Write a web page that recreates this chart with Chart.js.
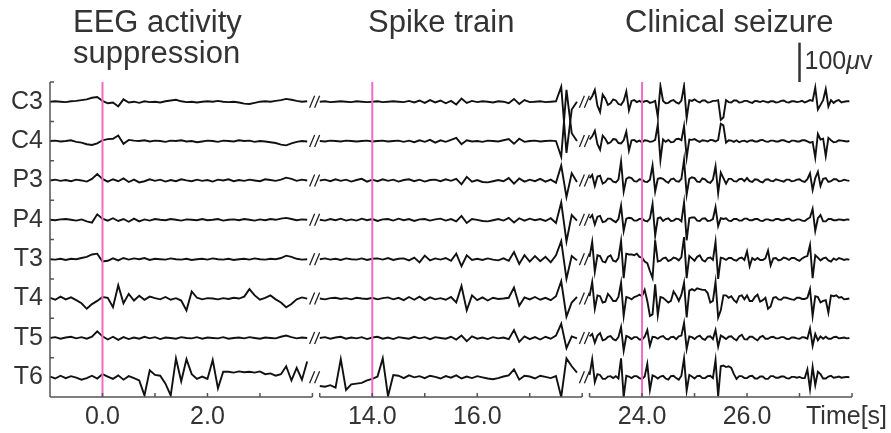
<!DOCTYPE html>
<html>
<head>
<meta charset="utf-8">
<script src="https://cdn.jsdelivr.net/npm/chart.js@4.4.1/dist/chart.umd.min.js"></script>
<style>
  html, body { margin:0; padding:0; background:#fff; }
  #wrap { width:891px; height:433px; }
</style>
</head>
<body>
<div id="wrap"><canvas id="eeg" width="891" height="433"></canvas></div>
<script>
// channels, top to bottom
const CHANNELS = ['C3','C4','P3','P4','T3','T4','T5','T6'];
const SPACING = 100;               // uV between baselines
// three recorded windows (s); the seizure window is read at a finer step
const SEG_START = [-1, 13, 23];
const SEG_STEP = [0.1, 0.1, 0.05];
const SEG_LEN = 5;
const SEG_GAP = 0.14;              // axis gap drawn between windows
const EVENT_TIMES = [0, 14, 24];
const X_TICK_TIMES = [0, 2, 14, 16, 24, 26];
const X_TICK_LABELS = ['0.0', '2.0', '14.0', '16.0', '24.0', '26.0'];
const SCALE_BAR_UV = 100;
const SCALE_BAR_T = 27.0;

// amplitudes in uV, one array per channel and window
const C3_1 = [0,1,0,-1,1,2,4,6,10,12, 2,-4,-2,-12,6,-2,0,-3,1,-1, 0,-2,1,3,5,1,-1,0,-2,0, 1,0,2,0,-1,0,-2,-5,-6,-3, 0,1,0,2,4,7,5,2,0,1];
const C4_1 = [0,1,-1,0,2,-2,-4,-8,-10,-6, 2,5,6,14,-7,3,1,0,2,-1, 1,0,-2,1,0,2,-1,0,-3,-1, 1,0,-2,1,0,-1,2,0,1,-2, 0,-1,-3,-5,-9,-11,-6,-2,0,-1];
const P3_1 = [0,2,-1,1,-2,2,0,-3,4,16, 4,-3,3,-2,5,-4,2,-5,-2,3, -1,2,-3,1,-2,3,0,-2,2,-1, 1,-3,2,0,3,-2,1,-1,2,0, -2,3,1,-1,2,7,4,-1,2,0];
const P4_1 = [0,-1,1,2,0,-2,1,-4,-7,14, 3,-2,4,-3,2,-5,3,-4,1,-2, 2,0,-1,2,0,-2,1,0,-1,2, -1,0,2,-2,0,1,-1,2,0,-2, 1,-1,2,0,3,5,2,-1,1,0];
const T3_1 = [0,-1,1,-2,1,0,3,6,12,14, -6,-4,2,-3,3,-1,2,0,3,-2, 1,0,-1,2,0,-1,1,-2,0,1, -1,2,0,-1,1,-2,0,1,-1,2, 0,-1,1,0,3,9,6,1,-1,0];
const T4_1 = [2,-3,5,-2,3,-4,-12,-26,-14,-6, 4,2,-22,34,-12,12,-5,7,-3,5, 1,-2,4,-3,1,-5,-30,18,2,-2, 1,0,-2,1,-1,2,0,5,24,8, -3,2,8,-2,-10,-22,-14,-2,3,0];
const T5_1 = [0,2,-2,1,3,-1,2,-2,3,17, 4,-4,3,-5,2,-3,1,-2,3,-1, 2,-3,1,0,-2,2,0,-1,2,-2, 1,0,-1,2,-2,0,1,-1,2,0, -2,1,0,-1,3,6,2,-1,1,0];
const T6_1 = [2,-3,4,-2,3,-1,-6,-2,4,-3, 8,2,-4,5,-6,3,-2,-8,-46,18, 6,4,-16,-46,48,-10,46,8,-4,2, -4,44,-28,14,14,12,15,13,14,12, 15,8,10,4,8,28,-8,24,-6,40];

const C3_2 = [0,1,-1,0,1,0,-1,1,0,-1, 0,1,-1,0,1,0,-1,2,-2,3, -3,4,-2,3,-4,2,-7,8,-3,2, -1,1,0,-2,1,0,-4,7,-6,4, -1,0,1,-1,0,1,38,-130,-20,0];
const C4_2 = [0,-1,1,0,-1,1,0,-1,0,1, -1,0,1,-1,0,1,-2,1,-3,2, -2,3,-4,2,-2,3,8,-8,2,-1, 0,-2,1,0,-1,2,5,-7,6,-2, 0,1,-1,0,1,0,-40,130,20,0];
const P3_2 = [0,2,-2,3,-1,2,-3,1,4,-3, 2,-2,3,-1,2,-3,1,3,-2,2, -3,1,2,-2,3,-1,4,-10,9,-3, 1,-4,-5,-2,1,-2,6,-8,5,-3, 2,-2,4,-3,2,-6,38,-42,18,-4];
const P4_2 = [0,-2,2,-1,3,-2,1,-2,3,-1, 2,-3,1,2,-2,3,-1,2,-3,1, 2,-2,1,3,-2,2,-4,10,-8,2, 0,-3,-4,-1,2,-2,5,-7,4,-2, 3,-1,2,-3,4,-8,44,-55,12,-2];
const T3_2 = [0,2,-1,1,-2,2,0,-1,2,-2, 1,2,-1,3,-2,1,2,-3,4,-8, 9,-3,2,-1,3,-4,14,-18,10,-2, 1,-2,2,-1,-3,2,-4,18,-12,10, -6,8,-5,6,-8,10,46,-50,8,-3];
const T4_2 = [0,-2,1,2,-1,1,-2,2,0,-1, 2,-2,1,3,-2,2,-4,4,-3,5, -4,3,-2,1,-3,4,-10,32,-30,8, -4,3,-5,2,-1,0,2,28,-18,3, -2,4,-3,2,-4,6,44,-46,-10,4];
const T5_2 = [0,2,-2,1,3,-2,1,-1,2,-3, 1,3,-2,1,-3,2,0,-2,3,-1, 2,-3,2,0,-2,3,-4,6,-8,4, -2,1,-3,2,-1,1,-3,20,-10,4, -3,2,-4,3,-2,6,36,-26,4,-1];
const T6_2 = [-22,-24,-20,-26,46,-32,-18,-16,-14,-8, -4,2,48,-48,6,4,-2,5,0,3, -2,4,1,-3,3,-1,5,-3,2,-2, 3,0,-3,-5,-2,2,5,20,-6,4, 2,-3,4,1,-2,3,-50,48,28,12];

const C3_3 = [4,14,30,-10,-26,18,8,-8,-4,6, 3,-6,-8,2,26,-22,2,4,-1,2, -2,1,2,-3,-1,2,-38,40,2,-4, -3,2,4,-2,-5,3,40,-42,4,2,
              6,1,-2,3,3,-2,-1,2,2,4, -46,-40,4,-1,-2,3,3,-2,-1,2, 2,-1,-3,2,1,-1,2,0,-2,1, 1,-2,-1,2,3,-1,-2,1,1,-1,
              0,2,-2,1,4,2,36,-20,-8,4, 32,-12,4,-3,2,4,-2,0,1,1];
const C4_3 = [4,12,26,-8,-22,14,6,-6,-3,5, 4,-5,-6,2,24,-24,2,3,-2,1, -3,2,1,-2,-1,3,42,-48,4,-2, 3,-3,-2,5,6,2,38,-42,4,3,
              5,1,-2,2,1,-1,3,2,-1,3, 44,40,-4,2,1,-2,2,-3,0,1, -2,1,2,-1,-1,2,3,-1,-2,1, 1,-1,-1,2,2,-1,-3,1,1,-1,
              -1,2,2,-1,-4,-2,-42,18,4,6, -38,8,2,-3,-2,2,1,0,-1,0];
const P3_3 = [6,14,-14,10,12,-8,-4,5,4,-3, -5,2,48,-28,4,8,6,-2,-3,3, 2,-3,-4,2,38,-28,4,6,4,-2, -6,3,5,-2,-3,4,52,-36,4,8,
              6,-3,-4,5,3,-4,-6,2,36,-32, 20,6,-8,4,4,-2,-3,3,4,-2, 6,-2,-4,3,2,-3,-5,2,3,-1, -2,3,1,-1,-3,2,2,-2,-1,2,
              3,-2,-4,3,18,-24,6,22,-14,4, 6,-4,-2,3,3,-2,-1,2,0,-1];
const P4_3 = [4,12,-12,8,10,-6,-4,3,3,-2, -6,2,36,-28,3,5,4,-2,-2,2, 3,-2,-4,3,40,-40,4,6,-3,2, 4,-3,-2,3,2,-4,44,-52,4,6,
              6,-2,-3,3,4,-3,-2,2,32,-16, 4,2,4,-2,-3,2,2,-2,-2,3, 3,-1,-1,2,2,-2,-3,1,1,-1, -2,2,2,-1,-1,2,3,-2,-2,1,
              1,-2,-3,2,6,28,-28,4,12,-4, -4,2,2,-1,-1,1,0,-1,1,0];
const T3_3 = [6,44,-32,10,8,-6,-8,6,10,-4, -6,3,46,-48,14,12,12,10,14,6, 4,-6,-10,-30,-48,48,-6,-4,2,4, -5,-2,4,2,-3,5,56,-48,8,2,
              -4,6,10,-2,-6,3,4,-2,44,-50, 4,2,-2,3,3,-2,-4,2,4,-2, 20,-18,3,-2,3,-2,-2,2,22,-16, 2,3,-3,-1,4,2,-2,3,3,-1,
              -4,2,6,8,36,-48,10,4,-3,2, 4,-3,-6,2,-2,3,1,-2,0,-1];
const T4_3 = [6,42,-26,8,6,-10,-8,12,4,-6, -6,4,40,-44,4,2,-2,4,6,10, 6,22,-6,-44,-40,36,-42,4,2,-4, -10,-6,18,8,-6,10,40,-48,20,24,
              20,26,24,22,22,14,-10,-6,42,-48, -30,8,8,2,6,-4,-10,6,8,-2, 8,-6,-6,4,10,-8,-4,2,-26,-20, 2,4,-2,-3,3,2,0,-2,-3,2,
              2,-1,-1,2,24,-44,6,4,-10,-6, -4,-36,8,6,8,2,4,-2,-1,0];
const T5_3 = [4,10,-12,6,12,-6,-4,3,5,-3, -6,2,28,-32,5,2,-3,2,2,-4, -4,3,20,-20,3,2,-2,3,5,-2, -4,2,3,-3,4,6,38,-28,4,2,
              -3,3,6,-2,-5,3,4,-3,20,-22, 6,2,-3,3,4,-2,-6,4,8,-3, -4,3,3,-2,-6,2,5,-2,-2,2, 3,-1,-1,2,2,-2,-3,1,1,-1,
              -2,2,1,-2,24,-20,10,-6,4,-2, 3,-2,-2,2,3,-1,0,1,-1,0];
const T6_3 = [6,46,-12,8,6,-4,-4,2,3,-2, 3,-3,48,-50,4,2,-2,3,3,-2, -4,2,34,-32,5,2,-3,2,4,-3, -6,3,4,-2,-6,4,48,-34,6,2,
              -3,3,4,-2,-2,3,4,-2,44,-48, 28,30,26,28,24,8,-4,3,3,-2, -2,3,4,-3,-3,2,2,-4,-4,3, 3,-1,-1,2,2,-2,-3,1,1,-1,
              1,-2,-2,20,-30,26,-20,14,8,-3, -3,2,4,-1,0,2,-1,0,1,0];

const TRACES = {
  C3: [C3_1, C3_2, C3_3], C4: [C4_1, C4_2, C4_3],
  P3: [P3_1, P3_2, P3_3], P4: [P4_1, P4_2, P4_3],
  T3: [T3_1, T3_2, T3_3], T4: [T4_1, T4_2, T4_3],
  T5: [T5_1, T5_2, T5_3], T6: [T6_1, T6_2, T6_3]
};

const FONT = "'Liberation Sans', Arial, sans-serif";
const TRACE_COLOR = '#111';
const EVENT_COLOR = '#f26cc6';
const AXIS_COLOR = '#555';
const TEXT_COLOR = '#333';

// the windows are packed next to each other on one axis
const axisStart = k => SEG_START[0] + k * (SEG_LEN + SEG_GAP);
const segOf = t => (t >= SEG_START[2] ? 2 : t >= SEG_START[1] ? 1 : 0);
const toAxis = t => { const k = segOf(t); return t - SEG_START[k] + axisStart(k); };
const X_MIN = axisStart(0), X_MAX = axisStart(2) + SEG_LEN;
const Y_MAX = SPACING / 2, Y_MIN = -(CHANNELS.length - 0.5) * SPACING;

const datasets = [];
EVENT_TIMES.forEach(t => {
  datasets.push({ data: [{x: toAxis(t), y: Y_MAX}, {x: toAxis(t), y: Y_MIN}],
    borderColor: EVENT_COLOR, borderWidth: 2, order: 0 });
});
CHANNELS.forEach((ch, c) => {
  TRACES[ch].forEach((vals, k) => {
    datasets.push({
      data: vals.map((v, i) => ({ x: axisStart(k) + i * SEG_STEP[k], y: -c * SPACING + v })),
      borderColor: TRACE_COLOR, borderWidth: 1.9, order: 1
    });
  });
});
// 100 uV scale bar above the plot
datasets.push({ data: [{x: toAxis(SCALE_BAR_T), y: Y_MAX}, {x: toAxis(SCALE_BAR_T), y: Y_MAX + SCALE_BAR_UV}],
  borderColor: TEXT_COLOR, borderWidth: 2.5, clip: false, order: 1 });

const decor = {
  id: 'decor',
  afterDatasetsDraw(chart) {
    const { ctx, scales: { x, y } } = chart;
    const yTop = y.getPixelForValue(Y_MAX), yBot = y.getPixelForValue(Y_MIN);
    const x0 = x.getPixelForValue(X_MIN);
    ctx.save();
    ctx.strokeStyle = AXIS_COLOR;
    ctx.lineWidth = 1.5;
    ctx.beginPath();
    ctx.moveTo(x0, yTop); ctx.lineTo(x0, yBot);
    for (let i = 0; i <= CHANNELS.length; i++) {
      const yy = y.getPixelForValue(Y_MAX - i * SPACING);
      ctx.moveTo(x0, yy); ctx.lineTo(x0 + 4, yy);
    }
    // broken time axis, one piece per window, ticks every second
    SEG_START.forEach((t0, k) => {
      const a = x.getPixelForValue(axisStart(k)), b = x.getPixelForValue(axisStart(k) + SEG_LEN);
      ctx.moveTo(a, yBot); ctx.lineTo(b, yBot);
      for (let s = 0; s <= SEG_LEN; s++) {
        const p = x.getPixelForValue(axisStart(k) + s);
        ctx.moveTo(p, yBot); ctx.lineTo(p, yBot - 4);
      }
    });
    ctx.stroke();

    // "//" break marks on every trace
    ctx.strokeStyle = '#222';
    ctx.lineWidth = 1.3;
    ctx.beginPath();
    for (let k = 1; k < SEG_START.length; k++) {
      const cx = (x.getPixelForValue(axisStart(k - 1) + SEG_LEN) + x.getPixelForValue(axisStart(k))) / 2 - 1;
      CHANNELS.forEach((ch, c) => {
        const cy = y.getPixelForValue(-c * SPACING);
        [-3, 2].forEach(dx => {
          ctx.moveTo(cx + dx - 2.5, cy + 6);
          ctx.lineTo(cx + dx + 2.5, cy - 6);
        });
      });
    }
    ctx.stroke();
    ctx.restore();
  },
  afterDraw(chart) {
    const { ctx, scales: { x } } = chart;
    ctx.save();
    ctx.fillStyle = TEXT_COLOR;
    ctx.textBaseline = 'alphabetic';
    ctx.font = '31px ' + FONT;
    ctx.fillText('EEG activity', 73, 32);
    ctx.fillText('suppression', 73, 63);
    ctx.fillText('Spike train', 368, 32);
    ctx.fillText('Clinical seizure', 625, 32);

    // scale bar label
    const bx = x.getPixelForValue(toAxis(SCALE_BAR_T)) + 5;
    ctx.font = '25px ' + FONT;
    ctx.fillText('100', bx, 69);
    let w = ctx.measureText('100').width;
    ctx.font = 'italic 25px ' + FONT;
    ctx.fillText('\u03bc', bx + w, 69);
    w += ctx.measureText('\u03bc').width;
    ctx.font = '25px ' + FONT;
    ctx.fillText('v', bx + w, 69);

    ctx.font = '25px ' + FONT;
    ctx.fillText('Time[s]', 806, 424);
    ctx.restore();
  }
};

new Chart(document.getElementById('eeg'), {
  type: 'line',
  data: { datasets },
  plugins: [decor],
  options: {
    responsive: false,
    animation: false,
    devicePixelRatio: 1,
    layout: { padding: { top: 82, right: 39, left: 0, bottom: 0 } },
    plugins: { legend: { display: false }, tooltip: { enabled: false } },
    elements: { line: { tension: 0, fill: false }, point: { radius: 0 } },
    scales: {
      x: {
        type: 'linear', min: X_MIN, max: X_MAX,
        grid: { display: false, drawTicks: false }, border: { display: false },
        afterBuildTicks: s => { s.ticks = X_TICK_TIMES.map(t => ({ value: toAxis(t) })); },
        afterFit: s => { s.height = 36; },
        ticks: { autoSkip: false, maxRotation: 0, padding: 5, color: TEXT_COLOR,
          font: { family: FONT, size: 25 },
          callback: (v, i) => X_TICK_LABELS[i] }
      },
      y: {
        type: 'linear', min: Y_MIN, max: Y_MAX,
        grid: { display: false, drawTicks: false }, border: { display: false },
        afterBuildTicks: s => { s.ticks = CHANNELS.map((ch, i) => ({ value: -i * SPACING })); },
        afterFit: s => { s.width = 50; },
        ticks: { autoSkip: false, padding: 7, color: TEXT_COLOR,
          font: { family: FONT, size: 25 },
          callback: (v, i) => CHANNELS[i] }
      }
    }
  }
});
</script>
</body>
</html>
